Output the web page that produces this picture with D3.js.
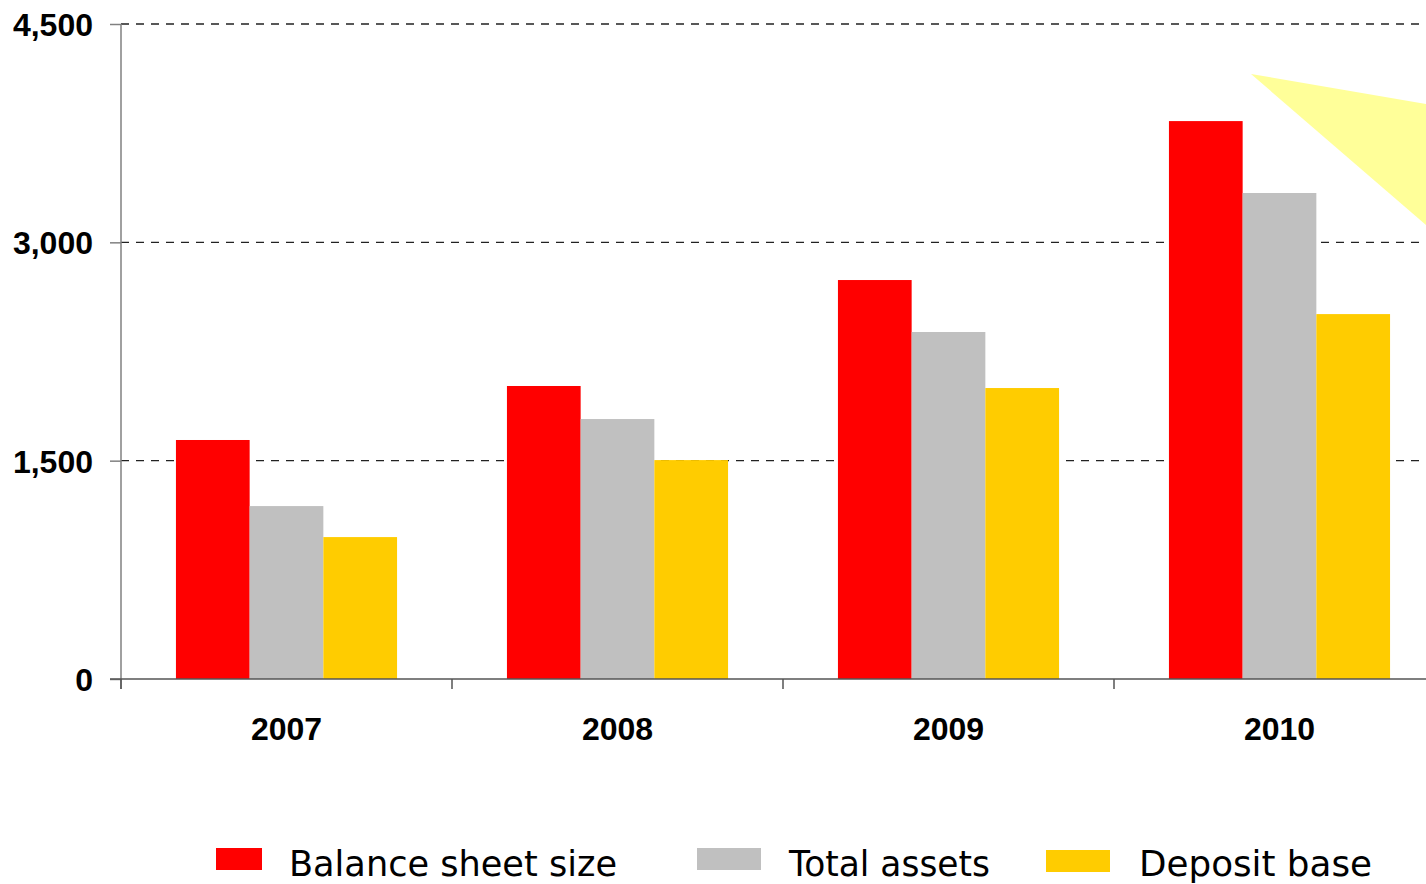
<!DOCTYPE html>
<html><head><meta charset="utf-8">
<script src="https://cdn.jsdelivr.net/npm/d3@7"></script>
<style>html,body{margin:0;padding:0;background:#fff;overflow:hidden}</style>
</head><body><svg id="c" width="1426" height="884"></svg>
<script>
const years = ["2007","2008","2009","2010"];
const seriesNames = ["Balance sheet size","Total assets","Deposit base"];
const balanceSheet = [1642, 2013, 2741, 3833];
const totalAssets = [1188, 1786, 2384, 3339];
const depositBase = [975, 1504, 1999, 2507];
const yTicks = [0, 1500, 3000, 4500];
const colors = ["#FF0000", "#C0C0C0", "#FFCC00"];

(function(){
const values = [balanceSheet, totalAssets, depositBase];
const svg = d3.select("#c");
const mLeft = 121, mTop = 24, mBottom = 679;
const x0 = d3.scaleBand().domain(years).range([mLeft, mLeft + 331*4]).paddingInner(0.332).paddingOuter(0.166);
const xb = d3.scaleBand().domain(years).range([mLeft, mLeft + 331*4]).padding(0);
const x1 = d3.scaleBand().domain(seriesNames).range([0, x0.bandwidth()]);
const y = d3.scaleLinear().domain([0, 4500]).range([mBottom, mTop]);
const color = d3.scaleOrdinal().domain(seriesNames).range(colors);

// decorative triangle
svg.append("path").attr("d", "M1251,74 L1426,104 L1426,225 Z").attr("fill", "#FFFF99");

// grid
svg.append("g").selectAll("line").data(yTicks.filter(d => d > 0)).join("line")
  .attr("x1", mLeft).attr("x2", 1426).attr("y1", d => y(d)).attr("y2", d => y(d))
  .attr("stroke", "#222").attr("stroke-width", 1.3).attr("stroke-dasharray", "8,7");

// bars
const groups = svg.append("g").selectAll("g").data(years).join("g")
  .attr("transform", d => `translate(${x0(d)},0)`);
groups.selectAll("rect").data((d, i) => seriesNames.map((s, j) => ({s, v: values[j][i]}))).join("rect")
  .attr("x", d => x1(d.s)).attr("width", x1.bandwidth())
  .attr("y", d => y(d.v)).attr("height", d => mBottom - y(d.v))
  .attr("fill", d => color(d.s));

// y axis
const yAxis = d3.axisLeft(y).tickValues(yTicks).tickSize(11).tickFormat(d3.format(","));
const gy = svg.append("g").attr("transform", `translate(${mLeft},0)`).call(yAxis);
gy.select(".domain").attr("stroke", "#808080").attr("stroke-width", 1.5).attr("d", `M0,${mTop}V${mBottom + 10}`);
gy.selectAll(".tick line").attr("stroke", "#808080").attr("stroke-width", 1.5);
gy.selectAll(".tick text").attr("x", -28).attr("dy", "0.36em")
  .attr("font-family", "Liberation Sans, Arial, sans-serif").attr("font-weight", "bold")
  .attr("font-size", 32).attr("fill", "#000");

// x axis
const gx = svg.append("g").attr("transform", `translate(0,${mBottom})`);
gx.append("line").attr("x1", mLeft - 11).attr("x2", 1426).attr("y1", 0).attr("y2", 0)
  .attr("stroke", "#555").attr("stroke-width", 1.5);
gx.selectAll("line.t").data(years).join("line").attr("class", "t")
  .attr("x1", d => xb(d)).attr("x2", d => xb(d)).attr("y1", 0).attr("y2", 10)
  .attr("stroke", "#555").attr("stroke-width", 1.5);
gx.selectAll("text").data(years).join("text")
  .attr("x", d => xb(d) + xb.bandwidth()/2).attr("y", 61).attr("text-anchor", "middle")
  .attr("font-family", "Liberation Sans, Arial, sans-serif").attr("font-weight", "bold")
  .attr("font-size", 32).attr("fill", "#000").text(d => d);

// legend
const legendPos = [
  {sx: 216, sw: 46, sy: 848, tx: 289, tw: 328},
  {sx: 697, sw: 64, sy: 848, tx: 789, tw: 201},
  {sx: 1046, sw: 64, sy: 850, tx: 1139, tw: 233}
];
const lg = svg.append("g");
seriesNames.forEach((s, i) => {
  const p = legendPos[i];
  lg.append("rect").attr("x", p.sx).attr("y", p.sy).attr("width", p.sw).attr("height", 22).attr("fill", color(s));
  lg.append("text").attr("x", p.tx).attr("y", 876).attr("font-family", "DejaVu Sans, sans-serif")
    .attr("font-size", 36).attr("fill", "#000").attr("textLength", p.tw).attr("lengthAdjust", "spacingAndGlyphs").text(s);
});
})();
</script></body></html>
